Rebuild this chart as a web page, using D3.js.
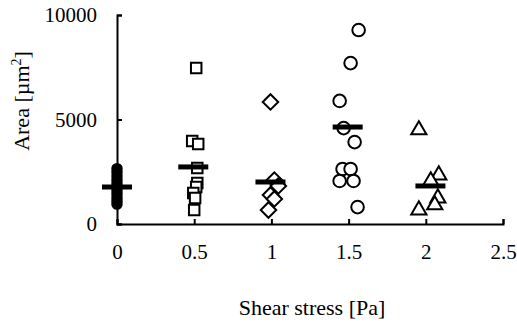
<!doctype html>
<html>
    <head>
        <meta charset="utf-8">
        <style>
            body { margin: 0; overflow: hidden; background: #fff; }
        </style>
    </head>
    <body>
        <script src="https://cdn.jsdelivr.net/npm/d3@7"></script>
        <script>
            // jittered points per group: x in Pa, y in µm²
            const pts0 = [
                [0, 2650], [0, 2480], [0, 2300], [0, 2120], [0, 1950], [0, 1780],
                [0, 1600], [0, 1430], [0, 1260], [0, 1100], [0, 950]
            ];
            const pts05 = [
                [0.513, 7460], [0.487, 3970], [0.526, 3830], [0.52, 2680], [0.52, 1960],
                [0.513, 1770], [0.494, 1480], [0.506, 1240], [0.5, 670]
            ];
            const pts1 = [
                [0.994, 5840], [1.019, 2100], [1.045, 1820], [0.994, 1390], [1.019, 1200], [0.981, 670]
            ];
            const pts15 = [
                [1.565, 9280], [1.513, 7700], [1.442, 5890], [1.468, 4590], [1.539, 3920],
                [1.461, 2630], [1.513, 2630], [1.442, 2060], [1.532, 2060], [1.558, 810]
            ];
            const pts2 = [
                [1.955, 4500], [2.084, 2340], [2.032, 2060], [2.078, 1240], [2.058, 910], [1.955, 670]
            ];
            // group means (black dashes)
            const meanX = [0, 0.494, 0.994, 1.494, 2.03];
            const meanY = [1770, 2730, 2010, 4640, 1820];

            const xTicks = [0, 0.5, 1, 1.5, 2, 2.5];
            const yTicks = [0, 5000, 10000];

            const FONT = '"Liberation Serif", "Times New Roman", serif';
            const width = 517, height = 324;
            const svg = d3.select('body').append('svg')
                .attr('width', width)
                .attr('height', height);

            const x = d3.scaleLinear().domain([0, 2.5]).range([117, 503]);
            const y = d3.scaleLinear().domain([0, 10000]).range([224, 15]);

            const xAxis = svg.append('g')
                .attr('transform', `translate(0,${y(0)})`)
                .call(d3.axisBottom(x).tickValues(xTicks).tickSize(-5).tickPadding(20)
                    .tickFormat(d3.format('')));
            const yAxis = svg.append('g')
                .attr('transform', `translate(${x(0)},0)`)
                .call(d3.axisLeft(y).tickValues(yTicks).tickSize(-5).tickPadding(20)
                    .tickFormat(d3.format('')));

            [xAxis, yAxis].forEach(g => {
                g.attr('font-family', FONT).attr('font-size', 21);
                g.selectAll('path, line').attr('stroke', '#000').attr('stroke-width', 2);
                g.selectAll('text').attr('fill', '#000');
            });

            const plot = svg.append('g');

            function markers(data, shape, size, fill) {
                plot.selectAll(null).data(data).join('path')
                    .attr('d', d3.symbol(shape, size))
                    .attr('transform', d => `translate(${x(d[0])},${y(d[1])})`)
                    .attr('fill', fill ? '#000' : '#fff')
                    .attr('stroke', '#000')
                    .attr('stroke-width', 2);
            }

            const diamond = {
                draw(ctx, size) {
                    const r = Math.sqrt(size / 2);
                    ctx.moveTo(0, -r); ctx.lineTo(r, 0); ctx.lineTo(0, r); ctx.lineTo(-r, 0); ctx.closePath();
                }
            };

            markers(pts0, d3.symbolCircle, 70, true);
            markers(pts05, d3.symbolSquare, 110, false);
            markers(pts1, diamond, 120, false);
            markers(pts15, d3.symbolCircle, 125, false);
            markers(pts2, d3.symbolTriangle, 100, false);

            plot.selectAll('rect.mean').data(meanY).join('rect')
                .attr('class', 'mean')
                .attr('x', (d, i) => x(meanX[i]) - 15)
                .attr('y', d => y(d) - 2.5)
                .attr('width', 30)
                .attr('height', 5)
                .attr('fill', '#000');

            svg.append('text')
                .attr('x', 312).attr('y', 315)
                .attr('text-anchor', 'middle')
                .attr('font-family', FONT)
                .attr('font-size', 22)
                .attr('fill', '#000')
                .text('Shear stress [Pa]');

            const yt = svg.append('text')
                .attr('transform', 'translate(29,101) rotate(-90)')
                .attr('text-anchor', 'middle')
                .attr('font-family', FONT)
                .attr('font-size', 22)
                .attr('fill', '#000');
            yt.append('tspan').text('Area [µm');
            yt.append('tspan').attr('dy', -8).attr('font-size', 14).text('2');
            yt.append('tspan').attr('dy', 8).text(']');
        </script>
    </body>
</html>
